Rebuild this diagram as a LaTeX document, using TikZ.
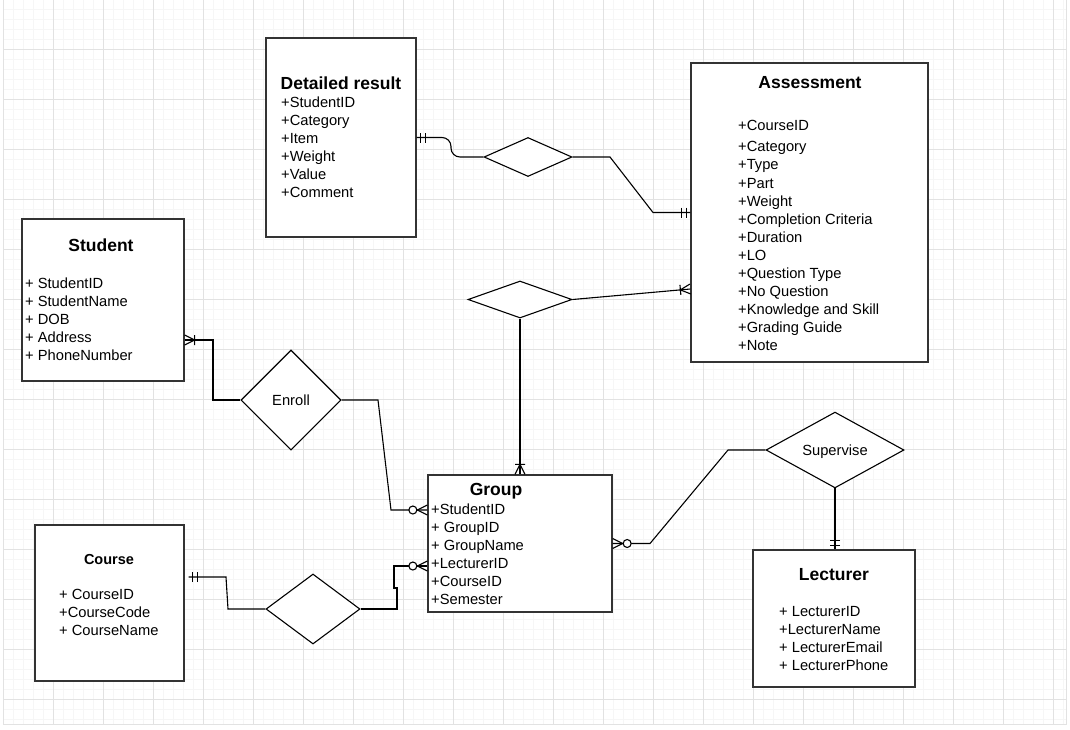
\documentclass[tikz,border=0pt]{standalone}
\usepackage{fontspec}
\setmainfont{Liberation Sans}
\usepackage{tikz}
\usetikzlibrary{shapes.geometric}

\definecolor{gridmajor}{HTML}{E2E2E2}
\definecolor{gridminor}{HTML}{F6F6F6}
\definecolor{boxline}{HTML}{333333}

\tikzset{
  mandone/.pic={\draw[line width=1.1pt] (-4,-5) -- (-4,5) (-9,-5) -- (-9,5);},
  onemany/.pic={\draw[line width=1.1pt] (0,-5) -- (-10,0) -- (0,5) (-10,-5) -- (-10,5);},
  zeromany/.pic={\draw[line width=1.1pt] (0,-5) -- (-10,0) -- (0,5);
    \draw[line width=1.1pt,fill=white] (-14.5,0) circle (4);}
}

\begin{document}
\begin{tikzpicture}[x=1pt,y=-1pt,
  entity/.style={draw=boxline,line width=1.3pt,fill=white,rectangle,inner sep=0pt},
  rel/.style={draw,line width=1.1pt,fill=white,diamond,inner sep=0pt,
    font=\fontsize{14.7pt}{18pt}\selectfont,text height=10.5pt,text depth=0pt},
  title/.style={inner sep=0pt,font=\fontsize{17.5pt}{20pt}\selectfont\bfseries,text height=12.6pt,text depth=0pt},
  attr/.style={inner sep=0pt,anchor=base west,font=\fontsize{14.7pt}{18pt}\selectfont},
  conn/.style={draw,line width=1.1pt},
  endmark/.style={pos=1,sloped,allow upside down}]
\useasboundingbox (0,0) rectangle (1070,729);
\fill[white] (0,0) rectangle (1070,729);

\foreach \gi in {0,...,106} \draw[gridminor,line width=0.8pt] (3.3+10*\gi,0) -- (3.3+10*\gi,724);
\foreach \gi in {1,...,72} \draw[gridminor,line width=0.8pt] (3.3,-0.7+10*\gi) -- (1066,-0.7+10*\gi);
\foreach \gi in {0,...,21} \draw[gridmajor] (3.3+50*\gi,0) -- (3.3+50*\gi,724);
\foreach \gi in {0,...,13} \draw[gridmajor] (3.3,49.3+50*\gi) -- (1066,49.3+50*\gi);
\draw[gridmajor] (1066,0) -- (1066,724) -- (3.3,724);

\node[entity,minimum width=150pt,minimum height=199pt] (dres) at (341,137.5) {};
\node[title] (dres-t) at (341,83) {Detailed result};
\foreach \a [count=\i] in {+StudentID,+Category,+Item,+Weight,+Value,+Comment}
  \node[attr] (dres-\i) at (281,89.3+18*\i) {\a};

\node[entity,minimum width=237pt,minimum height=299pt] (assess) at (809.5,212.5) {};
\node[title] (assess-t) at (810,82) {Assessment};
\foreach \a/\ay [count=\i] in {+CourseID/130.3,+Category/151,+Type/169.6,+Part/188,+Weight/206,
  +Completion Criteria/224,+Duration/242.3,+LO/260.3,+Question Type/278.3,+No Question/296.3,
  +Knowledge and Skill/314.3,+Grading Guide/332.3,+Note/350.3}
  \node[attr] (assess-\i) at (738,\ay) {\a};

\node[entity,minimum width=162pt,minimum height=162pt] (student) at (103,300) {};
\node[title] (student-t) at (101,245) {Student};
\foreach \a [count=\i] in {+ StudentID,+ StudentName,+ DOB,+ Address,+ PhoneNumber}
  \node[attr] (student-\i) at (25,270.3+18*\i) {\a};

\node[entity,minimum width=184pt,minimum height=137pt] (group) at (520,543.5) {};
\node[title] (group-t) at (496,489) {Group};
\foreach \a [count=\i] in {+StudentID,+ GroupID,+ GroupName,+LecturerID,+CourseID,+Semester}
  \node[attr] (group-\i) at (431,496.3+18*\i) {\a};

\node[entity,minimum width=149pt,minimum height=156pt] (course) at (109.5,603) {};
\node[title,font=\fontsize{14.5pt}{18pt}\selectfont\bfseries,text height=10.4pt] (course-t) at (109,559) {Course};
\foreach \a [count=\i] in {+ CourseID,+CourseCode,+ CourseName}
  \node[attr] (course-\i) at (59,581.3+18*\i) {\a};

\node[entity,minimum width=162pt,minimum height=137pt] (lect) at (834,618.5) {};
\node[title] (lect-t) at (834,574) {Lecturer};
\foreach \a [count=\i] in {+ LecturerID,+LecturerName,+ LecturerEmail,+ LecturerPhone}
  \node[attr] (lect-\i) at (779,598.3+18*\i) {\a};

\node[rel,minimum width=88pt,minimum height=39pt] (dd) at (528,157) {};
\node[rel,minimum width=104pt,minimum height=37pt] (dg) at (520,299.5) {};
\node[rel,minimum width=100pt,minimum height=100pt] (enroll) at (291,400) {Enroll};
\node[rel,minimum width=94pt,minimum height=70pt] (dc) at (313,609) {};
\node[rel,minimum width=138pt,minimum height=75pt] (sup) at (835,450) {Supervise};

\coordinate (course-r) at ([xshift=4pt]course.east);

\draw[conn,rounded corners=9pt] (dd.west) -- (451,157) -- (451,137.5) -- (dres.east) pic[endmark] {mandone};
\draw[conn] (dd.east) -- (610,157) -- (653,212.5) -- (assess.west) pic[endmark] {mandone};
\draw[conn] (dg.east) -- (assess.west |- 0,289) pic[endmark] {onemany};
\draw[conn] (dg.south) -- (group.north) pic[endmark] {onemany};
\draw[conn] (enroll.west) -- (213,400) -- (213,340) -- (student.east |- 0,340) pic[endmark] {onemany};
\draw[conn] (enroll.east) -- (378,400) -- (391,510) -- (group.west |- 0,510) pic[endmark] {zeromany};
\draw[conn] (dc.west) -- (228,609) -- (226,577) -- (course-r |- 0,577) pic[endmark] {mandone};
\draw[conn] (dc.east) -- (397,609) -- (397,588) -- (394,588) -- (394,566) -- (group.west |- 0,566) pic[endmark] {zeromany};
\draw[conn] (sup.west) -- (728,450) -- (650,543.5) -- (group.east) pic[endmark] {zeromany};
\draw[conn] (sup.south) -- (sup.south |- lect.north) pic[endmark] {mandone};
\end{tikzpicture}
\end{document}
